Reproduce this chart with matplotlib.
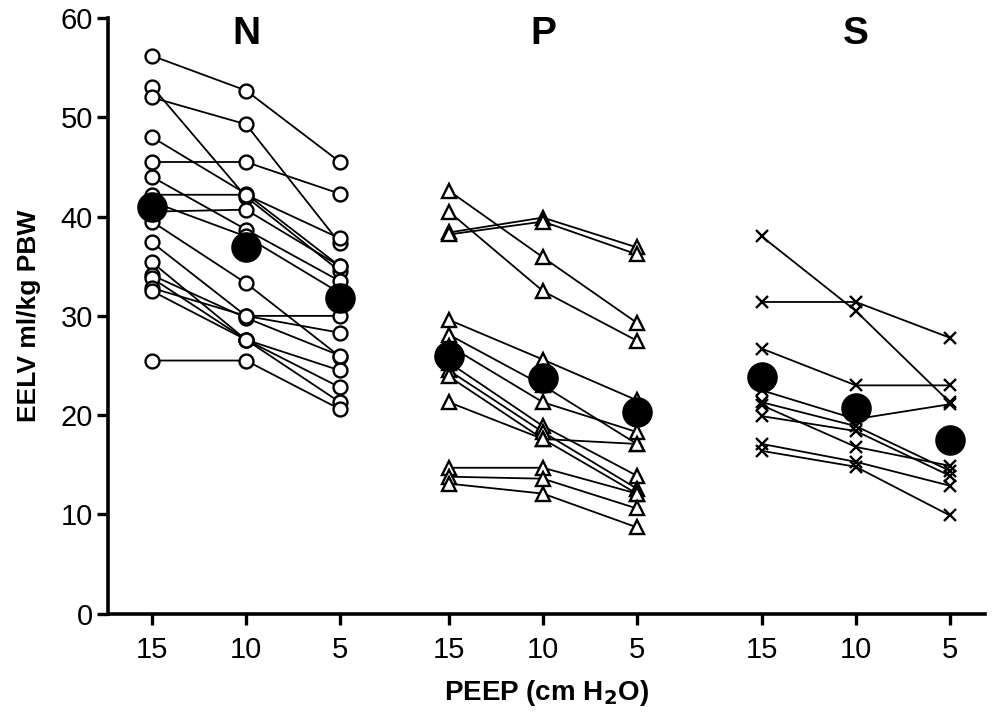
import matplotlib
matplotlib.use("Agg")
import matplotlib.pyplot as plt
import numpy as np

plt.rcParams['font.family'] = ['Liberation Sans', 'DejaVu Sans']

# PEEP levels and groups
peep_labels = ["15", "10", "5"]
groups = ["N", "P", "S"]
group_offsets = [0.0, 3.16, 6.49]

# Individual subject values (columns: PEEP 15, 10, 5)
N15 = [56.2, 53.1, 52.0, 48.0, 45.5, 44.0, 42.2, 41.5, 40.5, 39.5, 37.4, 35.4, 34.1, 33.8, 32.8, 32.5, 25.5]
N10 = [52.7, 42.0, 49.3, 42.3, 45.5, 38.7, 42.2, 38.0, 40.7, 33.3, 30.0, 27.6, 29.8, 27.6, 30.0, 27.6, 25.5]
N5 = [45.5, 34.5, 37.3, 35.0, 42.3, 33.5, 37.8, 32.3, 35.0, 25.9, 28.3, 24.5, 26.0, 22.8, 30.0, 21.3, 20.6]

P15 = [42.6, 40.5, 38.4, 38.2, 29.6, 28.1, 27.0, 25.3, 24.5, 23.9, 21.3, 14.7, 13.8, 13.1]
P10 = [35.9, 32.5, 39.9, 39.5, 25.6, 23.0, 21.3, 18.9, 18.3, 17.6, 17.6, 14.7, 13.6, 12.1]
P5 = [29.3, 27.5, 36.9, 36.2, 21.5, 17.1, 18.3, 13.9, 12.6, 12.1, 17.1, 12.1, 10.6, 8.7]

S15 = [38.0, 31.4, 26.7, 22.5, 21.3, 21.0, 19.9, 17.1, 16.4]
S10 = [30.5, 31.4, 23.0, 19.6, 18.9, 16.8, 18.4, 15.3, 14.8]
S5 = [21.3, 27.8, 23.0, 21.1, 14.4, 14.9, 13.9, 12.9, 9.9]

# Group means
N_mean = [41.0, 36.9, 31.8]
P_mean = [26.0, 23.7, 20.3]
S_mean = [23.8, 20.7, 17.5]

data = {
    "N": (N15, N10, N5, N_mean, "o"),
    "P": (P15, P10, P5, P_mean, "^"),
    "S": (S15, S10, S5, S_mean, "x"),
}

fig = plt.figure(figsize=(10.04, 7.22), dpi=100)
ax = fig.add_axes([0.1076, 0.150, 0.873, 0.825])

for g, off in zip(groups, group_offsets):
    v15, v10, v5, mean, mk = data[g]
    xs = np.array([0, 1, 2]) + off
    for a, b, c in zip(v15, v10, v5):
        ax.plot(xs, [a, b, c], color='black', lw=1.3, zorder=2)
        ax.plot(xs, [a, b, c], linestyle='none', marker=mk, markersize=10 if mk != 'x' else 8.5,
                markerfacecolor='white' if mk != 'x' else 'black', markeredgecolor='black',
                markeredgewidth=1.7, zorder=3)
    ax.plot(xs, mean, linestyle='none', marker='o', markersize=21,
            markerfacecolor='black', markeredgecolor='black', zorder=4)
    ax.text(off + 1, 58.4, g, ha='center', va='center', fontsize=28, fontweight='bold')

ticks = []
labels = []
for off in group_offsets:
    for i, lab in enumerate(peep_labels):
        ticks.append(off + i)
        labels.append(lab)
ax.set_xticks(ticks)
ax.set_xticklabels(labels)
ax.set_xlim(-0.468, 8.86)
ax.set_ylim(0, 60)
ax.set_yticks(range(0, 61, 10))

for side in ['top', 'right']:
    ax.spines[side].set_visible(False)
for side in ['left', 'bottom']:
    ax.spines[side].set_linewidth(2.6)
ax.tick_params(axis='both', width=2.4, length=8, labelsize=21, direction='out')
ax.tick_params(axis='x', pad=8)
ax.tick_params(axis='y', pad=3)

ax.set_ylabel("EELV ml/kg PBW", fontsize=19, fontweight='bold', labelpad=14)
ax.set_xlabel("PEEP (cm H$_\\mathbf{2}$O)", fontsize=20, fontweight='bold', labelpad=10)

fig.savefig("out.png", dpi=100)
